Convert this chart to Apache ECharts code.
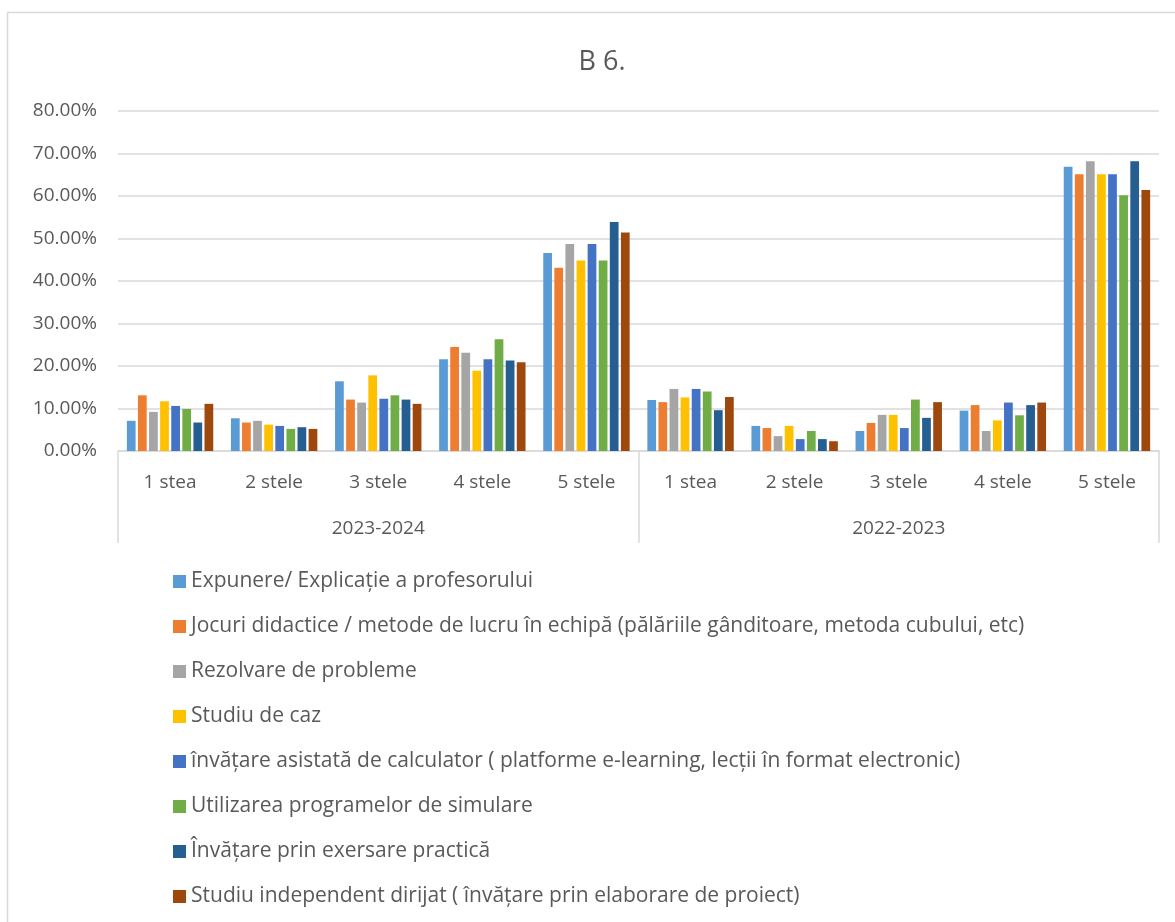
<!DOCTYPE html>
<html>
<head>
<meta charset="utf-8">
<script src="https://cdn.jsdelivr.net/npm/echarts@6/dist/echarts.min.js"></script>
<style>
html,body{margin:0;padding:0;background:#fff;}
#chart{width:1175px;height:922px;}
</style>
</head>
<body>
<div id="chart"></div>
<script>
const starLabels = ['1 stea', '2 stele', '3 stele', '4 stele', '5 stele'];
const years = ['2023-2024', '2022-2023'];
const yTicks = [0, 0.1, 0.2, 0.3, 0.4, 0.5, 0.6, 0.7, 0.8];

const seriesNames = [
  'Expunere/ Explicație a profesorului',
  'Jocuri didactice / metode de lucru în echipă (pălăriile gânditoare, metoda cubului, etc)',
  'Rezolvare de probleme',
  'Studiu de caz',
  'învățare asistată de calculator ( platforme e-learning, lecții în format electronic)',
  'Utilizarea programelor de simulare',
  'Învățare prin exersare practică',
  'Studiu independent dirijat ( învățare prin elaborare de proiect)'
];

// values: 2023-2024 (1..5 stele), then 2022-2023 (1..5 stele)
const expunere   = [0.071, 0.077, 0.164, 0.216, 0.466, 0.120, 0.059, 0.047, 0.095, 0.669];
const jocuri     = [0.131, 0.067, 0.121, 0.245, 0.431, 0.115, 0.054, 0.066, 0.108, 0.651];
const rezolvare  = [0.092, 0.071, 0.114, 0.231, 0.487, 0.146, 0.035, 0.085, 0.047, 0.682];
const studiuCaz  = [0.117, 0.062, 0.178, 0.189, 0.448, 0.126, 0.059, 0.085, 0.072, 0.651];
const asistata   = [0.106, 0.059, 0.123, 0.216, 0.487, 0.146, 0.028, 0.054, 0.114, 0.651];
const simulare   = [0.099, 0.052, 0.131, 0.263, 0.448, 0.140, 0.047, 0.121, 0.084, 0.602];
const exersare   = [0.067, 0.056, 0.121, 0.213, 0.539, 0.096, 0.028, 0.078, 0.108, 0.682];
const independent= [0.111, 0.052, 0.111, 0.209, 0.514, 0.127, 0.023, 0.115, 0.114, 0.614];

const seriesValues = [expunere, jocuri, rezolvare, studiuCaz, asistata, simulare, exersare, independent];
const colors = ['#5B9BD5', '#ED7D31', '#A5A5A5', '#FFC000', '#4472C4', '#70AD47', '#255E91', '#9E480E'];

const xCats = [];
years.forEach(y => starLabels.forEach(s => xCats.push(s)));

const textColor = '#595959';
const fontFam = '"Open Sans", "Liberation Sans", Arial, sans-serif';

const chart = echarts.init(document.getElementById('chart'));
chart.setOption({
  backgroundColor: '#fff',
  animation: false,
  color: colors,
  title: {
    text: 'B 6.',
    left: 597,
    textAlign: 'center',
    top: 44,
    textStyle: { color: textColor, fontSize: 27, fontWeight: 'normal', fontFamily: fontFam }
  },
  graphic: [{
    type: 'rect',
    shape: { x: 7.5, y: 12.5, width: 1200, height: 950 },
    style: { fill: 'none', stroke: '#d9d9d9', lineWidth: 1.5 },
    silent: true
  }],
  grid: { left: 118, right: 16, top: 111, bottom: 471 },
  legend: {
    orient: 'vertical',
    left: 168,
    top: 566,
    icon: 'rect',
    itemWidth: 13,
    itemHeight: 13,
    itemGap: 24,
    textStyle: { color: textColor, fontSize: 21, fontFamily: fontFam },
    data: seriesNames
  },
  xAxis: [{
    type: 'category',
    data: xCats,
    position: 'bottom',
    axisLine: { show: true, lineStyle: { color: '#d9d9d9', width: 1.5 } },
    axisTick: { show: false },
    axisLabel: { color: textColor, fontSize: 19, fontFamily: fontFam, margin: 22, interval: 0 },
    splitLine: { show: false }
  }, {
    type: 'category',
    data: years,
    position: 'bottom',
    axisLine: { show: false },
    axisTick: { show: true, length: 92, lineStyle: { color: '#d9d9d9', width: 1.5 } },
    axisLabel: { color: textColor, fontSize: 19, fontFamily: fontFam, margin: 68 },
    splitLine: { show: false }
  }],
  yAxis: {
    type: 'value',
    min: 0,
    max: 0.8,
    interval: 0.1,
    axisLine: { show: false },
    axisTick: { show: false },
    axisLabel: {
      color: textColor, fontSize: 19, fontFamily: fontFam, margin: 21,
      formatter: v => (v * 100).toFixed(2) + '%'
    },
    splitLine: { lineStyle: { color: '#d9d9d9', width: 1.5 } }
  },
  series: seriesNames.map((name, i) => ({
    name: name,
    type: 'bar',
    xAxisIndex: 0,
    data: seriesValues[i],
    barGap: '27%',
    barCategoryGap: '17%',
    itemStyle: { color: colors[i] }
  }))
});
</script>
</body>
</html>
